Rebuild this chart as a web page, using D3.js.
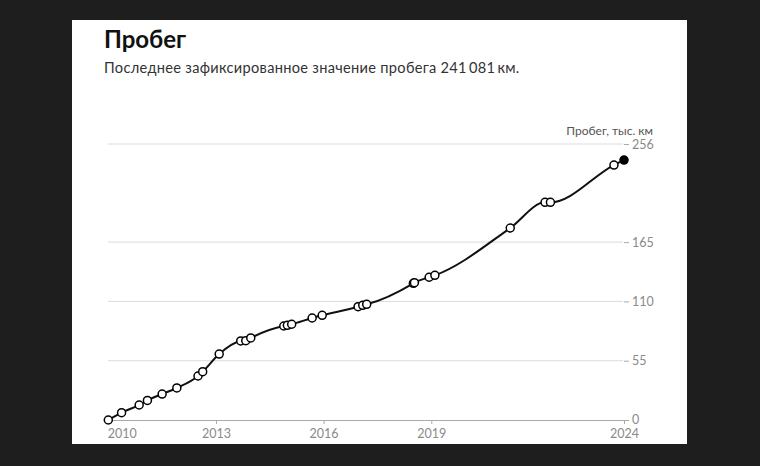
<!DOCTYPE html>
<html><head><meta charset="utf-8">
<script src="https://cdn.jsdelivr.net/npm/d3@7"></script>
<style>
html,body{margin:0;padding:0;background:#1e1e1e;}
svg{display:block;}
text{font-family:Lato,"Noto Sans",sans-serif;}
</style></head>
<body>
<script>
// Data: decimal year of each reading, mileage in thousand km
const years = [2010.0, 2010.37, 2010.86, 2011.09, 2011.5, 2011.91, 2012.5, 2012.63, 2013.09, 2013.69, 2013.83, 2013.97,
  2014.89, 2014.99, 2015.11, 2015.68, 2015.96, 2016.96, 2017.09, 2017.2, 2018.5, 2018.53, 2018.94, 2019.1,
  2021.2, 2022.17, 2022.32, 2024.09, 2024.37];
const mileage = [0, 6.8, 13.9, 18.2, 24.1, 29.7, 40.8, 44.8, 61.2, 73.3, 73.6, 76.1,
  87.2, 87.8, 88.8, 94.6, 97.1, 105.1, 106.4, 107.3, 126.8, 127.4, 132.4, 134.2,
  178.1, 201.9, 201.9, 236.5, 241.081];
const yTicks = [0, 55, 110, 165, 256];
const xTicks = [2010, 2013, 2016, 2019, 2024.37];
const xTickLabels = ["2010", "2013", "2016", "2019", "2024"];
const title = "Пробег";
const subtitle = "Последнее зафиксированное значение пробега 241\u2009081\u2009км.";
const yTitle = "Пробег, тыс. км";

const W = 760, H = 466;
const svg = d3.select("body").append("svg").attr("width", W).attr("height", H);
svg.append("rect").attr("x", 0).attr("y", 0).attr("width", W).attr("height", H).attr("fill", "#1e1e1e");
svg.append("rect").attr("x", 72).attr("y", 20).attr("width", 615).attr("height", 424).attr("fill", "#fff");

const x = d3.scaleLinear().domain([2010, 2024.37]).range([108.3, 624]);
const y = d3.scaleLinear().domain([0, 256]).range([420, 144]);

svg.append("text").attr("x", 104).attr("y", 48).attr("font-size", 24).attr("font-weight", 700)
  .attr("fill", "#111").text(title);
svg.append("text").attr("x", 104).attr("y", 73).attr("font-size", 14.6).attr("letter-spacing", 0.3)
  .attr("fill", "#333").text(subtitle);

// gridlines
const grid = svg.append("g");
grid.selectAll("line").data(yTicks.filter(d => d > 0)).join("line")
  .attr("x1", 108).attr("x2", 623).attr("y1", d => y(d)).attr("y2", d => y(d))
  .attr("stroke", "#dcdcdc").attr("stroke-width", 1);

// y axis on right
const yAxis = d3.axisRight(y).tickValues(yTicks).tickSize(5).tickPadding(3).tickFormat(d3.format("d"));
const gy = svg.append("g").attr("transform", "translate(624,0)").call(yAxis);
gy.select(".domain").remove();
gy.selectAll(".tick line").attr("stroke", "#aaa");
gy.selectAll(".tick text").attr("fill", "#8a8a8a").attr("font-size", 12.5).attr("font-family", "Lato, sans-serif");
gy.selectAll(".tick").filter(d => d === 0).select("text").attr("dy", "0.25em");

svg.append("text").attr("x", 653).attr("y", 135).attr("text-anchor", "end").attr("font-size", 12)
  .attr("fill", "#555").text(yTitle);

// x axis
const xAxis = d3.axisBottom(x).tickValues(xTicks).tickSize(4).tickPadding(5)
  .tickFormat((d, i) => xTickLabels[i]);
const gx = svg.append("g").attr("transform", "translate(0,420)").call(xAxis);
gx.select(".domain").attr("stroke", "#aaa").attr("d", "M108,0.5H627");
gx.selectAll(".tick line").attr("stroke", "#aaa");
gx.selectAll(".tick text").attr("fill", "#8a8a8a").attr("font-size", 12.5).attr("font-family", "Lato, sans-serif");
gx.selectAll(".tick").filter((d, i) => i === 0).select("text").attr("text-anchor", "start").attr("x", -1);
gx.selectAll(".tick").filter((d, i) => i === 0).select("line").remove();

const pts = years.map((yr, i) => ({x: yr, y: mileage[i]}));
const line = d3.line().x(d => x(d.x)).y(d => y(d.y)).curve(d3.curveMonotoneX);
svg.append("path").datum(pts).attr("d", line).attr("fill", "none").attr("stroke", "#111").attr("stroke-width", 2);

svg.append("g").selectAll("circle").data(pts).join("circle")
  .attr("cx", d => x(d.x)).attr("cy", d => y(d.y)).attr("r", 4)
  .attr("fill", (d, i) => i === pts.length - 1 ? "#000" : "#fff")
  .attr("stroke", "#000").attr("stroke-width", 1.5);
</script>
</body></html>
